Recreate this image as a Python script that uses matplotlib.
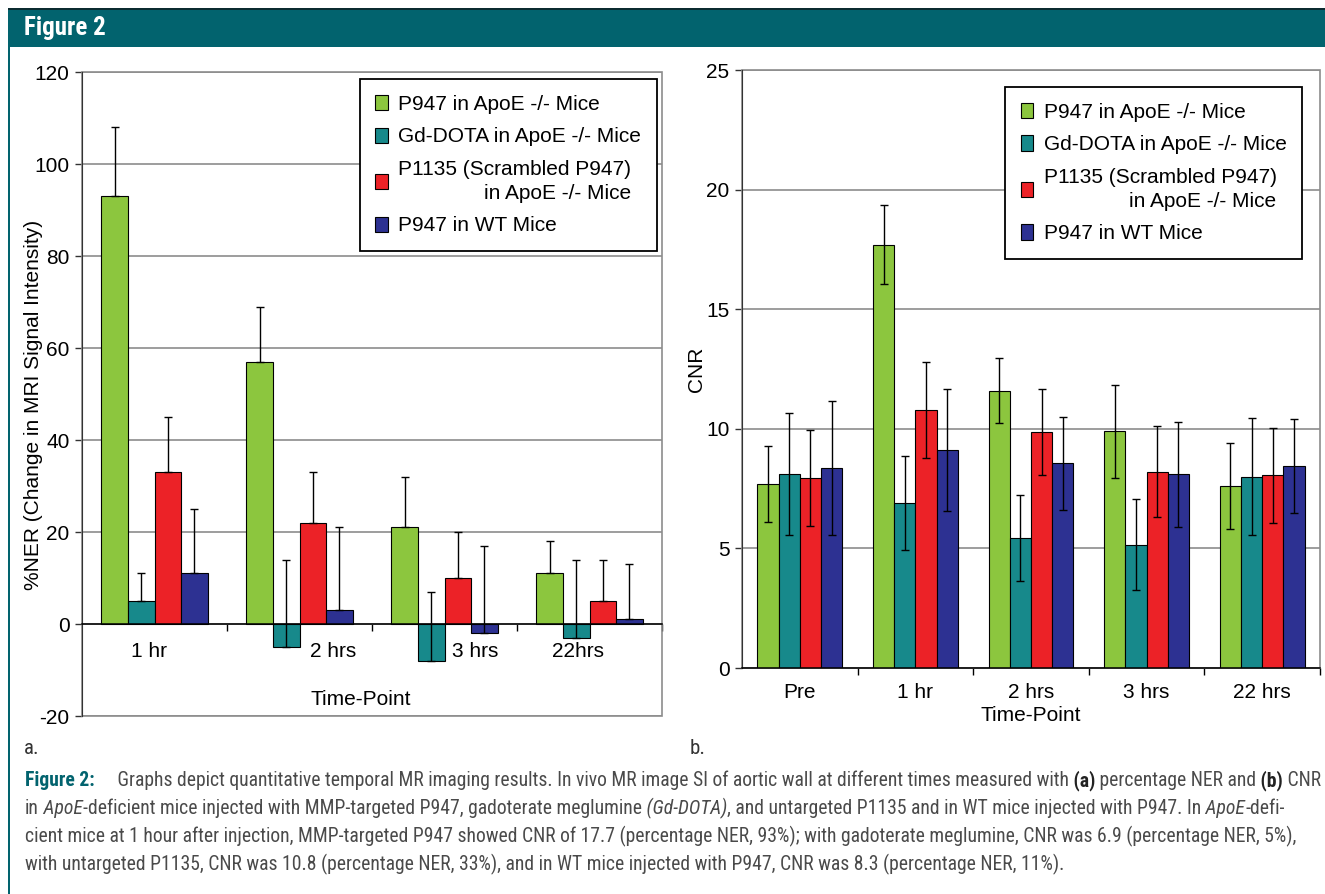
import matplotlib
matplotlib.use('Agg')
import matplotlib.pyplot as plt
import numpy as np
from matplotlib import font_manager
from matplotlib.font_manager import FontProperties
from matplotlib.patches import Rectangle, Patch

W, H = 1325, 894
DPI = 100

# ---------------- data ----------------
series = ["P947 in ApoE -/- Mice", "Gd-DOTA in ApoE -/- Mice",
          "P1135 (Scrambled P947)\nin ApoE -/- Mice", "P947 in WT Mice"]
colors = ['#8cc63e', '#17898b', '#ec2227', '#2d3192']

ner_times = ['1 hr', '2 hrs', '3 hrs', '22hrs']
ner_p947_apoe = [93, 57, 21, 11]
ner_gd_apoe = [5, -5, -8, -3]
ner_p1135_apoe = [33, 22, 10, 5]
ner_p947_wt = [11, 3, -2, 1]
ner_err_p947_apoe = [15, 12, 11, 7]
ner_err_gd_apoe = [6, 19, 15, 17]
ner_err_p1135_apoe = [12, 11, 10, 9]
ner_err_p947_wt = [14, 18, 19, 12]

cnr_times = ['Pre', '1 hr', '2 hrs', '3 hrs', '22 hrs']
cnr_p947_apoe = [7.7, 17.7, 11.6, 9.9, 7.6]
cnr_gd_apoe = [8.1, 6.9, 5.45, 5.15, 8.0]
cnr_p1135_apoe = [7.95, 10.8, 9.85, 8.2, 8.05]
cnr_p947_wt = [8.35, 9.1, 8.55, 8.1, 8.45]
cnr_err_p947_apoe = [1.6, 1.65, 1.35, 1.95, 1.8]
cnr_err_gd_apoe = [2.55, 1.95, 1.8, 1.9, 2.45]
cnr_err_p1135_apoe = [2.0, 2.0, 1.8, 1.9, 2.0]
cnr_err_p947_wt = [2.8, 2.55, 1.95, 2.2, 1.95]

ner_yticks = [-20, 0, 20, 40, 60, 80, 100, 120]
cnr_yticks = [0, 5, 10, 15, 20, 25]

# ---------------- fonts ----------------
plt.rcParams['font.family'] = ['Liberation Sans', 'DejaVu Sans']
plt.rcParams['axes.unicode_minus'] = False

ttf = font_manager.fontManager.ttflist
narrow = None
for pref in ['Liberation Sans Narrow', 'Roboto Condensed', 'Open Sans Condensed',
             'Noto Sans Condensed']:
    if any(f.name == pref for f in ttf):
        narrow = (pref, 'normal')
        break
if narrow is None:
    for f in ttf:
        if f.stretch in ('condensed', 'semi-condensed', 'extra-condensed') and 'Sans' in f.name \
                and 'Mono' not in f.name:
            narrow = (f.name, f.stretch)
            break
if narrow is None:
    narrow = ('Liberation Sans', 'normal')


def nfp(size, weight='normal', style='normal'):
    return FontProperties(family=narrow[0], stretch=narrow[1], size=size, weight=weight,
                          style=style)


TEAL = '#02636e'
GRID = '#8c8c8c'

fig = plt.figure(figsize=(W / DPI, H / DPI), dpi=DPI)
fig.patch.set_facecolor('white')


def fx(px):
    return px / W


def fy(py):
    return 1 - py / H


# header band + frame
fig.add_artist(Rectangle((fx(8), fy(47)), fx(W - 8), 38 / H, transform=fig.transFigure,
                         facecolor=TEAL, edgecolor='none', zorder=0))
fig.add_artist(Rectangle((fx(8), fy(10)), fx(W - 8), 1.5 / H, transform=fig.transFigure,
                         facecolor='#0b2b30', edgecolor='none', zorder=1))
fig.add_artist(Rectangle((fx(8), 0), 2 / W, fy(47), transform=fig.transFigure,
                         facecolor=TEAL, edgecolor='none', zorder=0))
fig.text(fx(24), fy(28), "Figure 2", color='white', fontproperties=nfp(18, 'bold'),
         ha='left', va='center')

bw = 0.183


def draw_bars(ax, ncat, vals_list, errs_list, symmetric):
    x = np.arange(ncat)
    for i, (vals, errs) in enumerate(zip(vals_list, errs_list)):
        xi = x + (i - 1.5) * bw
        ax.bar(xi, vals, bw, color=colors[i], edgecolor='black', linewidth=0.8, zorder=3)
        if symmetric:
            yerr = errs
        else:
            yerr = [np.zeros(len(errs)), errs]
        ax.errorbar(xi, vals, yerr=yerr, fmt='none', ecolor='black', elinewidth=1,
                    capsize=3, capthick=1, zorder=4)


def style_axes(ax):
    ax.grid(axis='y', color=GRID, linewidth=1.2, zorder=1)
    ax.set_axisbelow(True)
    for s in ['top', 'right']:
        ax.spines[s].set_visible(False)
    ax.add_patch(Rectangle((0, 0), 1, 1, transform=ax.transAxes, fill=False,
                           edgecolor=GRID, linewidth=1.2, zorder=2, clip_on=False))
    ax.spines['left'].set_color('#333333')
    ax.spines['left'].set_zorder(5)
    ax.spines['bottom'].set_color('black')
    ax.spines['bottom'].set_linewidth(1.1)
    ax.spines['bottom'].set_zorder(5)
    ax.tick_params(axis='y', direction='out', length=5, width=1, labelsize=15, pad=4,
                   color='#333333')
    ax.tick_params(axis='x', which='major', length=0, labelsize=15)
    ax.tick_params(axis='x', which='minor', direction='out', length=5, width=1, color='black')


def make_legend(ax, anchor):
    handles = [Patch(facecolor=c, edgecolor='black', linewidth=0.8) for c in colors]
    leg = ax.legend(handles, series, loc='upper right', bbox_to_anchor=anchor, fontsize=15,
                    frameon=True, fancybox=False, edgecolor='black', framealpha=1,
                    handlelength=0.6, handleheight=0.75, handletextpad=0.5,
                    labelspacing=0.66, borderpad=0.75, borderaxespad=0)
    leg.get_frame().set_linewidth(1.3)
    leg.get_texts()[2].set_multialignment('right')
    leg.get_texts()[2].set_linespacing(1.3)
    leg.set_zorder(10)
    return leg


# ---------------- panel a ----------------
ax1 = fig.add_axes([fx(82), fy(716), 580 / W, 644 / H])
draw_bars(ax1, len(ner_times),
          [ner_p947_apoe, ner_gd_apoe, ner_p1135_apoe, ner_p947_wt],
          [ner_err_p947_apoe, ner_err_gd_apoe, ner_err_p1135_apoe, ner_err_p947_wt],
          symmetric=False)
ax1.set_xlim(-0.5, len(ner_times) - 0.5)
ax1.set_ylim(ner_yticks[0], ner_yticks[-1])
ax1.set_yticks(ner_yticks)
style_axes(ax1)
ax1.spines['bottom'].set_position(('data', 0))
label_shift = [-0.04, 0.23, 0.21, -0.08]
ax1.set_xticks([i + s for i, s in enumerate(label_shift)])
ax1.set_xticklabels(ner_times)
ax1.set_xticks(np.arange(len(ner_times)) + 0.5, minor=True)
ax1.tick_params(axis='x', which='major', pad=13)
ax1.text(0.48, 0.025, "Time-Point", transform=ax1.transAxes, ha='center', va='center',
         fontsize=15)
make_legend(ax1, (0.991, 0.989))
fig.text(fx(34), fy(405), "%NER (Change in MRI Signal Intensity)", rotation=90,
         ha='center', va='center', fontsize=15)

# ---------------- panel b ----------------
ax2 = fig.add_axes([fx(742), fy(668), 578 / W, 598 / H])
draw_bars(ax2, len(cnr_times),
          [cnr_p947_apoe, cnr_gd_apoe, cnr_p1135_apoe, cnr_p947_wt],
          [cnr_err_p947_apoe, cnr_err_gd_apoe, cnr_err_p1135_apoe, cnr_err_p947_wt],
          symmetric=True)
ax2.set_xlim(-0.5, len(cnr_times) - 0.5)
ax2.set_ylim(cnr_yticks[0], cnr_yticks[-1])
ax2.set_yticks(cnr_yticks)
style_axes(ax2)
ax2.set_xticks(np.arange(len(cnr_times)))
ax2.set_xticklabels(cnr_times)
ax2.set_xticks(np.arange(len(cnr_times)) + 0.5, minor=True)
ax2.tick_params(axis='x', which='major', pad=11)
ax2.set_xlabel("Time-Point", fontsize=15, labelpad=3)
make_legend(ax2, (0.969, 0.9716))
fig.text(fx(697), fy(369), "CNR", rotation=90, ha='center', va='center', fontsize=15)

# ---------------- panel letters & caption ----------------
TXT = '#4a4a4a'
fig.text(fx(24), fy(754), "a.", fontproperties=nfp(15), color='#333333', ha='left',
         va='baseline')
fig.text(fx(690), fy(754), "b.", fontproperties=nfp(15), color='#333333', ha='left',
         va='baseline')

N, B, I = 'normal', 'bold', 'italic'
cap_lines = [
    [("Figure 2:", B, N, TEAL),
     ("     Graphs depict quantitative temporal MR imaging results. In vivo MR image SI of aortic wall at different times measured with", N, N, TXT),
     (" (a)", B, N, '#222222'), (" percentage NER and", N, N, TXT), (" (b)", B, N, '#222222'),
     (" CNR", N, N, TXT)],
    [("in", N, N, TXT), (" ApoE", N, I, TXT),
     ("-deficient mice injected with MMP-targeted P947, gadoterate meglumine", N, N, TXT),
     (" (Gd-DOTA)", N, I, TXT),
     (", and untargeted P1135 and in WT mice injected with P947. In", N, N, TXT),
     (" ApoE", N, I, TXT), ("-defi-", N, N, TXT)],
    [("cient mice at 1 hour after injection, MMP-targeted P947 showed CNR of 17.7 (percentage NER, 93%); with gadoterate meglumine, CNR was 6.9 (percentage NER, 5%),", N, N, TXT)],
    [("with untargeted P1135, CNR was 10.8 (percentage NER, 33%), and in WT mice injected with P947, CNR was 8.3 (percentage NER, 11%).", N, N, TXT)],
]
cap_y = [786, 814, 842, 870]
cap_x0 = 25
renderer = fig.canvas.get_renderer()


def line_width(segs, size):
    total = 0
    for txt, wt, st, col in segs:
        t = fig.text(0, 0, txt, fontproperties=nfp(size, wt, st))
        total += t.get_window_extent(renderer=renderer).width
        t.remove()
    return total


base = 10
wline = line_width(cap_lines[0], base)
cap_size = base * ((1313 - cap_x0) / wline)

for segs, yb in zip(cap_lines, cap_y):
    xpos = cap_x0
    for txt, wt, st, col in segs:
        t = fig.text(fx(xpos), fy(yb), txt, fontproperties=nfp(cap_size, wt, st),
                     color=col, ha='left', va='baseline')
        xpos += t.get_window_extent(renderer=renderer).width

fig.savefig('out.png', dpi=DPI)
